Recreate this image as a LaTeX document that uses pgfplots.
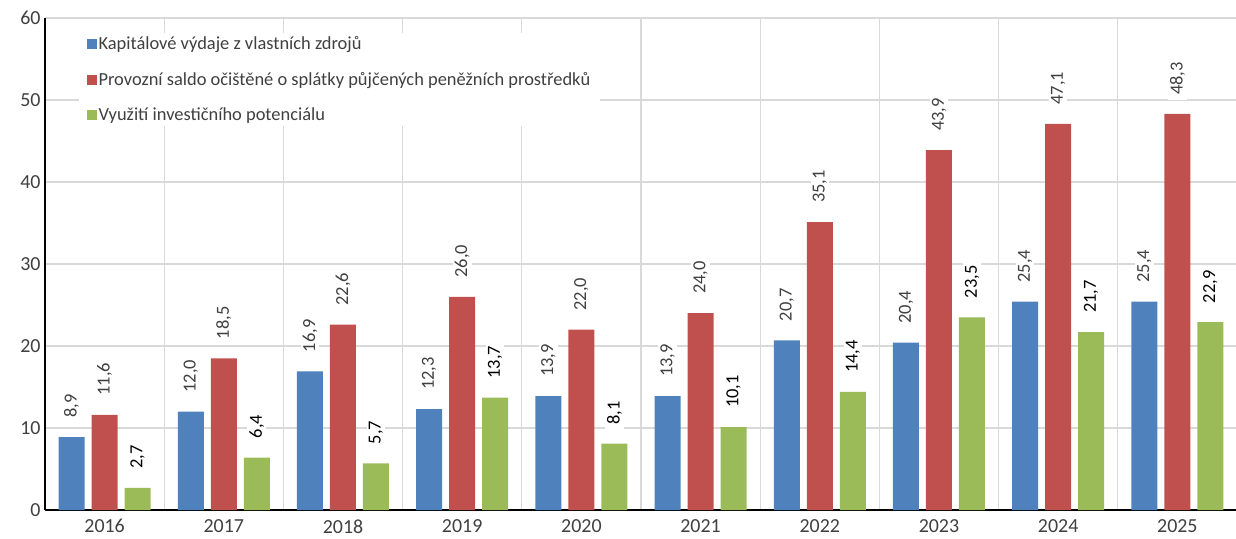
\documentclass[border=0pt]{standalone}
\usepackage{fontspec}
\setmainfont{Carlito}
\usepackage{pgfplots}
\usepackage{pgfplotstable}
\pgfplotsset{compat=1.18}
\definecolor{cblue}{HTML}{4F81BD}
\definecolor{cred}{HTML}{C0504D}
\definecolor{cgreen}{HTML}{9BBB59}
\definecolor{ctext}{HTML}{404040}
\definecolor{cgrid}{HTML}{D9D9D9}

\pgfplotstableread{
x kap prov vyuz
0 8.9 11.6 2.7
1 12.0 18.5 6.4
2 16.9 22.6 5.7
3 12.3 26.0 13.7
4 13.9 22.0 8.1
5 13.9 24.0 10.1
6 20.7 35.1 14.4
7 20.4 43.9 23.5
8 25.4 47.1 21.7
9 25.4 48.3 22.9
}\data

\begin{document}
\begin{tikzpicture}
\begin{axis}[
    at={(0,0)}, anchor=south west,
    width=1192bp, height=492bp, scale only axis,
    ybar=7bp, bar width=26bp,
    xmin=-0.5, xmax=9.5, ymin=0, ymax=60,
    xtick={0,...,9},
    xticklabels={2016,2017,2018,2019,2020,2021,2022,2023,2024,2025},
    minor xtick={-0.5,0.5,...,9.5},
    ytick={0,10,...,60},
    xminorgrids=true, ymajorgrids=true,
    axis x line*=bottom, axis y line*=left,
    axis line style={black, line width=1.5bp, -},
    major tick length=0pt, minor tick length=0pt,
    grid style={cgrid, line width=1.2bp},
    minor grid style={cgrid, line width=1.2bp},
    major grid style={cgrid, line width=1.2bp},
    tick label style={font=\fontsize{20}{24}\selectfont, text=ctext},
    xticklabel style={yshift=-6bp},
    yticklabel style={xshift=-1bp},
    /pgf/number format/assume math mode=true,
    nodes near coords={\pgfmathprintnumber[fixed, fixed zerofill, precision=1, use comma, assume math mode=true]{\pgfplotspointmeta}},
    every node near coord/.append style={yshift=14bp, rotate=90, anchor=west,
        fill=white, inner xsep=5bp, inner ysep=2bp,
        font=\fontsize{18.5}{22}\selectfont, text=ctext},
    legend style={at={(0.028,0.97)}, anchor=north west, draw=none, fill=white,
        font=\fontsize{18.5}{22}\selectfont, text=ctext, row sep=17bp,
        inner xsep=8bp, legend cell align=left},
    legend image code/.code={\path[#1] (0bp,-5bp) rectangle (10bp,5bp);},
]
\addplot[fill=cblue, draw=none] table[x=x, y=kap] {\data};
\addlegendentry{Kapitálové výdaje z vlastních zdrojů}
\addplot[fill=cred, draw=none] table[x=x, y=prov] {\data};
\addlegendentry{Provozní saldo očištěné o splátky půjčených peněžních prostředků}
\addplot[fill=cgreen, draw=none, every node near coord/.append style={text=black}] table[x=x, y=vyuz] {\data};
\addlegendentry{Využití investičního potenciálu}
\end{axis}
\pgfresetboundingbox
\path[use as bounding box] (-45bp,-29bp) rectangle (1191bp,510bp);
\end{tikzpicture}
\end{document}
